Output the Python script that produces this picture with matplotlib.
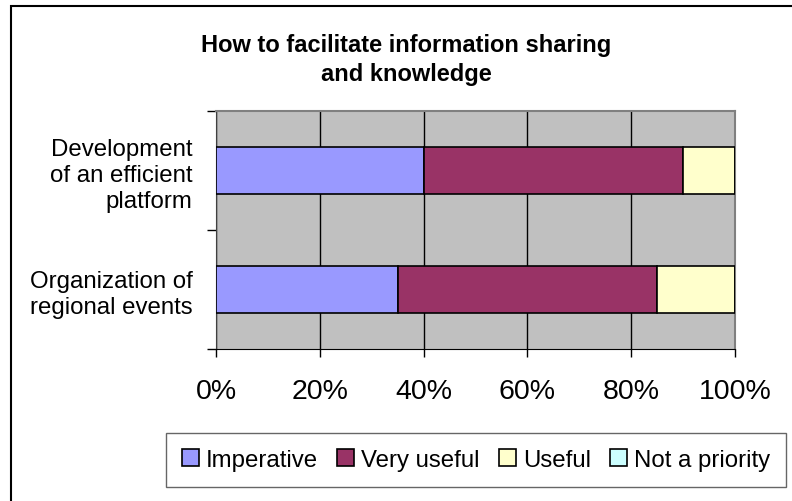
import numpy as np
import matplotlib
matplotlib.use("Agg")
import matplotlib.pyplot as plt
from matplotlib.patches import Rectangle

plt.rcParams["font.family"] = ["Liberation Sans", "DejaVu Sans"]

# Data (percent of respondents)
categories = ["Organization of\nregional events",
              "Development\nof an efficient\nplatform"]
series = ["Imperative", "Very useful", "Useful", "Not a priority"]
imperative = [35, 40]
very_useful = [50, 50]
useful = [15, 10]
not_priority = [0, 0]
colors = ["#9999FF", "#993366", "#FFFFCC", "#CCFFFF"]
ticks = [0, 20, 40, 60, 80, 100]

fig = plt.figure(figsize=(7.92, 5.02), dpi=100)
ax = fig.add_axes([216 / 792, 1 - 350 / 502, (735 - 216) / 792, (350 - 112) / 502])
ax.set_facecolor("#C0C0C0")

y = np.arange(len(categories))
left = np.zeros(len(categories))
for vals, name, col in zip([imperative, very_useful, useful, not_priority], series, colors):
    ax.barh(y, vals, left=left, height=0.4, color=col, edgecolor="black",
            linewidth=1.2, label=name, zorder=3)
    left += np.array(vals)

ax.set_xlim(0, 100)
ax.set_ylim(-0.5, len(categories) - 0.5)
ax.set_xticks(ticks)
ax.set_xticklabels([f"{t}%" for t in ticks], fontsize=20.5)
ax.tick_params(axis="x", length=6, width=1, pad=15, colors="black")
ax.grid(axis="x", color="black", linewidth=1, zorder=1)

ax.set_yticks(y)
ax.set_yticklabels(categories, fontsize=17.3, linespacing=1.25)
ax.tick_params(axis="y", length=0, pad=17)
ax.set_yticks(np.arange(-0.5, len(categories)), minor=True)
ax.tick_params(axis="y", which="minor", length=6.5, width=1, color="black")

for s in ["top", "right"]:
    ax.spines[s].set_color("#808080")
    ax.spines[s].set_linewidth(1.5)
ax.spines["bottom"].set_color("black")
ax.spines["left"].set_color("#404040")

fig.text(406 / 792, 1 - 60 / 502, "How to facilitate information sharing\nand knowledge",
         ha="center", va="center", fontsize=17, fontweight="bold", linespacing=1.3)

leg = fig.legend(loc="center", bbox_to_anchor=(476 / 792, 1 - 461 / 502), ncol=4,
                 fontsize=17.3, frameon=True, fancybox=False, edgecolor="#404040",
                 handlelength=0.7, handleheight=0.7, handletextpad=0.3,
                 columnspacing=0.8, borderpad=0.65)
leg.get_frame().set_linewidth(1)

# outer chart border
fig.patches.append(Rectangle((11 / 792, -0.1), 1.2, 1 - 7 / 502 + 0.1,
                             transform=fig.transFigure, fill=False,
                             edgecolor="black", linewidth=1.5, clip_on=False))

fig.savefig("out.png", dpi=100)
